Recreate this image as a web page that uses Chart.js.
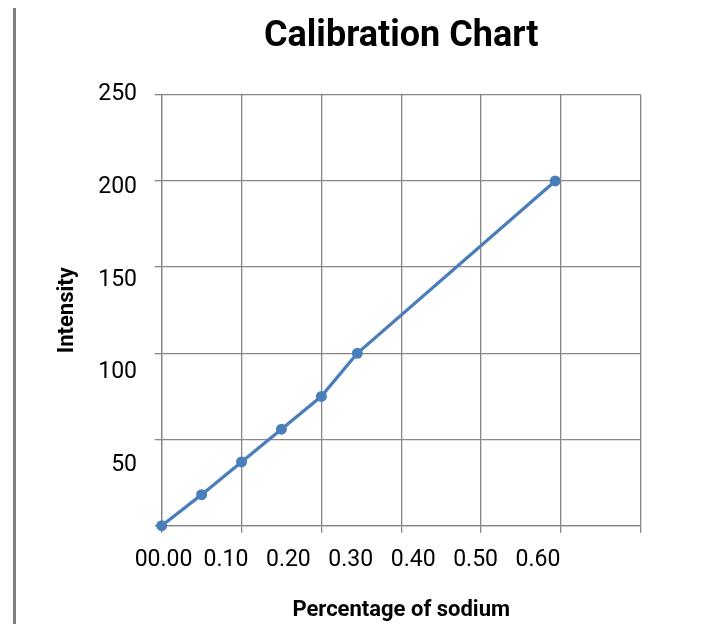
<!DOCTYPE html>
<html>
<head>
<meta charset="utf-8">
<script src="https://cdn.jsdelivr.net/npm/chart.js@4"></script>
<style>
body { margin: 0; background: #fff; }
#wrap { position: relative; width: 717px; height: 624px; }
#edge { position: absolute; left: 13px; top: 8px; width: 3px; height: 616px; background: #808080; }
canvas { position: absolute; left: 0; top: 0; }
</style>
</head>
<body>
<div id="wrap"><div id="edge"></div><canvas id="calibration-chart" width="717" height="624"></canvas></div>
<script>
// values
const sodium = [0, 0.05, 0.10, 0.15, 0.20, 0.245, 0.493];
const intensity = [0, 18, 37, 56, 75, 100, 200];

// grid lines
const xGrid = [0, 0.1, 0.2, 0.3, 0.4, 0.5, 0.6];
const yGrid = [0, 50, 100, 150, 200, 250];

// tick labels (they sit a little off the grid in the original)
const xTicks = [0, 0.1, 0.2, 0.3, 0.4, 0.5, 0.6];
const xTickLabels = ['00.00', '0.10', '0.20', '0.30', '0.40', '0.50', '0.60'];
const yTicks = [50, 100, 150, 200, 250];

const narrow = "Roboto, 'DejaVu Sans Condensed', sans-serif";
const gridColor = '#868686';
const lineBlue = '#4a7ebb';

function setTicks(values) {
    return axis => { axis.ticks = values.map(v => ({ value: v })) }
}

new Chart(document.querySelector('#calibration-chart').getContext('2d'), {
    type: 'line',
    data: {
        datasets: [{
            data: sodium.map((x, i) => ({ x: x, y: intensity[i] })),
            borderColor: lineBlue,
            backgroundColor: lineBlue,
            borderWidth: 3.3,
            pointRadius: 5.5,
            pointBorderWidth: 0,
            pointBackgroundColor: lineBlue,
            tension: 0,
            clip: false,
            xAxisID: 'x',
            yAxisID: 'y'
        }]
    },
    options: {
        responsive: false,
        animation: false,
        layout: { padding: { left: 30, right: 76.3, top: 0, bottom: 0 } },
        plugins: {
            legend: { display: false },
            tooltip: { enabled: false },
            title: {
                display: true,
                text: 'Calibration Chart',
                fullSize: false,
                color: '#000',
                font: { family: narrow, size: 36, weight: 'bold' },
                padding: { top: 15.4, bottom: 36.1 }
            }
        },
        scales: {
            x: {
                type: 'linear',
                position: 'bottom',
                weight: 0,
                min: 0,
                max: 0.6,
                afterBuildTicks: setTicks(xGrid),
                afterFit: axis => { axis.height = 7 },
                ticks: { display: false },
                grid: { color: gridColor, lineWidth: 1.3, tickLength: 7, drawTicks: true },
                border: { color: gridColor, width: 1.3 }
            },
            x2: {
                type: 'linear',
                position: 'bottom',
                weight: 1,
                min: -0.003,
                max: 0.7646,
                afterBuildTicks: setTicks(xTicks),
                afterFit: axis => { axis.height = 91.3 },
                grid: { display: false, drawTicks: false },
                border: { display: false },
                ticks: {
                    padding: 14,
                    color: '#000',
                    maxRotation: 0,
                    autoSkip: false,
                    font: { family: narrow, size: 23 },
                    callback: (v, i) => xTickLabels[i]
                },
                title: {
                    display: true,
                    text: 'Percentage of sodium',
                    color: '#000',
                    font: { family: narrow, size: 22, weight: 'bold' },
                    padding: { top: 0, bottom: 0.5 }
                }
            },
            y: {
                type: 'linear',
                position: 'left',
                weight: 0,
                min: 0,
                max: 250,
                afterBuildTicks: setTicks(yGrid),
                afterFit: axis => { axis.width = 8 },
                ticks: { display: false },
                grid: { color: gridColor, lineWidth: 1.3, tickLength: 7, drawTicks: true },
                border: { color: gridColor, width: 1.3 }
            },
            y2: {
                type: 'linear',
                position: 'left',
                weight: 1,
                min: 17.2,
                max: 250,
                afterBuildTicks: setTicks(yTicks),
                afterFit: axis => { axis.width = 153.7 - 30 },
                grid: { display: false, drawTicks: false },
                border: { display: false },
                ticks: {
                    padding: 16.7,
                    color: '#000',
                    autoSkip: false,
                    font: { family: narrow, size: 23 }
                },
                title: {
                    display: true,
                    text: 'Intensity',
                    color: '#000',
                    font: { family: narrow, size: 22, weight: 'bold' },
                    padding: { top: 23.8, bottom: 0 }
                }
            }
        }
    }
});
</script>
</body>
</html>
